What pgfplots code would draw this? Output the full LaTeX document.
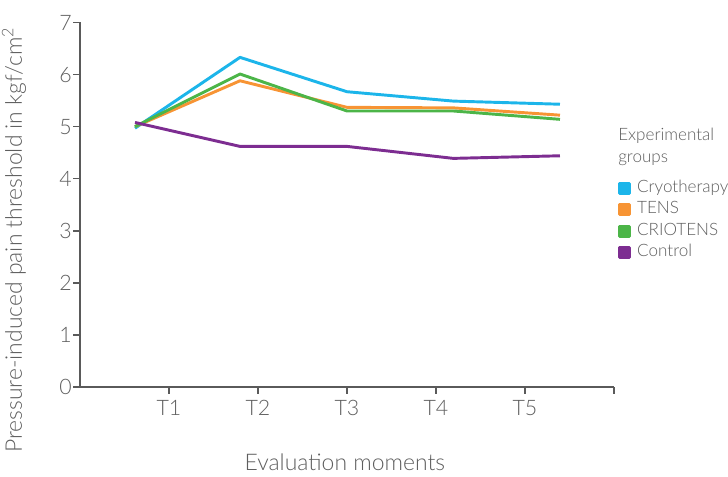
\documentclass[border=0pt]{standalone}
\usepackage{pgfplots}
\pgfplotsset{compat=1.18}
\usepackage{fontspec}
\setmainfont{Lato}[UprightFont=* Light]
\definecolor{cryo}{HTML}{1CB5EA}
\definecolor{tens}{HTML}{F79434}
\definecolor{crio}{HTML}{4CB548}
\definecolor{ctrl}{HTML}{7D2D91}
\definecolor{textgray}{HTML}{5E5E5E}
\definecolor{axisgray}{HTML}{5A5A5A}
\begin{document}
\begin{tikzpicture}
\path[use as bounding box] (-60pt,-67.5pt) rectangle (486pt,290.25pt);
\begin{axis}[
  at={(0,0)}, anchor=south west,
  scale only axis, width=400.5pt, height=273.4pt,
  xmin=0, xmax=6, ymin=0, ymax=7,
  clip=false,
  axis x line*=bottom, axis y line*=left,
  axis line style={-, draw=axisgray, line width=1.1pt},
  tick style={draw=axisgray, line width=1.1pt},
  tick align=outside, major tick length=5pt,
  xtick={1,2,3,4,5,6}, xticklabels={T1,T2,T3,T4,T5,{}},
  ytick={0,1,2,3,4,5,6,7},
  /pgf/number format/assume math mode=true,
  tick label style={font=\fontsize{16}{19}\selectfont, text=textgray},
  yticklabel style={inner sep=1pt},
  xticklabel style={inner sep=1pt, yshift=-3.5pt},
  xlabel={Evaluation moments},
  ylabel={Pressure-induced pain threshold in kgf/cm\textsuperscript{2}},
  label style={font=\fontsize{17.2}{20}\selectfont, text=textgray},
  xlabel style={at={(rel axis cs:0.496,-0.206)}, anchor=center},
  ylabel style={at={(rel axis cs:-0.1236,0.403)}, anchor=center},
  legend style={at={(rel axis cs:1.0075,0.568)}, anchor=north west, draw=none, fill=none, inner sep=0pt,
    font=\fontsize{12.8}{15}\selectfont, text=textgray, row sep=4.1pt,
    nodes={inner sep=0pt, text height=9pt, text depth=3pt},
    /tikz/every odd column/.append style={column sep=4.5pt}},
  legend cell align=left,
  legend image code/.code={\fill[#1] (0pt,-3.75pt) rectangle (7.5pt,3.75pt);},
  every axis plot/.append style={line width=2.2pt, line join=round},
]
\addplot[color=cryo] coordinates {(0.618,4.97) (1.798,6.33) (3.0,5.67) (4.195,5.49) (5.393,5.43)};
\addlegendentry{Cryotherapy}
\addplot[color=tens] coordinates {(0.618,5.0) (1.798,5.88) (3.0,5.37) (4.195,5.36) (5.393,5.22)};
\addlegendentry{TENS}
\addplot[color=crio] coordinates {(0.618,5.0) (1.798,6.01) (3.0,5.30) (4.195,5.30) (5.393,5.14)};
\addlegendentry{CRIOTENS}
\addplot[color=ctrl] coordinates {(0.618,5.08) (1.798,4.62) (3.0,4.62) (4.195,4.39) (5.393,4.44)};
\addlegendentry{Control}
\node[anchor=base west, inner sep=0pt, font=\fontsize{12.8}{15}\selectfont, text=textgray] at (rel axis cs:1.0075,0.675) {Experimental};
\node[anchor=base west, inner sep=0pt, font=\fontsize{12.8}{15}\selectfont, text=textgray] at (rel axis cs:1.0075,0.617) {groups};
\end{axis}
\end{tikzpicture}
\end{document}
